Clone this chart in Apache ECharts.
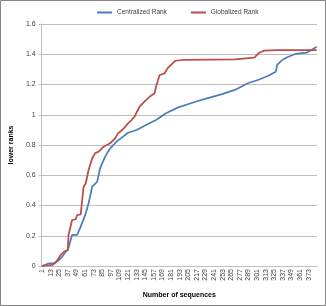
<!DOCTYPE html>
<html><head><meta charset="utf-8">
<script src="https://cdn.jsdelivr.net/npm/echarts@6/dist/echarts.min.js"></script>
<style>html,body{margin:0;padding:0;background:#fff}#c{width:326px;height:306px}</style>
</head><body><div id="c"></div>
<script>
var categoryCount = 384;
var legendNames = ['Centralized Rank', 'Globalized Rank'];
var yTicks = [0, 0.2, 0.4, 0.6, 0.8, 1, 1.2, 1.4, 1.6];
// key points: [category index (0-based), value]
var centralizedRank = [
  [0,0],[1,0.007],[10,0.018],[17,0.018],[24,0.04],[29,0.066],[33,0.095],[36,0.106],
  [42,0.205],[49,0.205],[54,0.26],[61,0.348],[65,0.415],[70,0.524],[77,0.557],[81,0.646],
  [88,0.723],[95,0.778],[104,0.822],[113,0.855],[120,0.881],[132,0.899],[145,0.932],
  [159,0.965],[173,1.01],[189,1.047],[214,1.086],[230,1.108],[250,1.135],[269,1.164],
  [287,1.208],[301,1.23],[315,1.256],[326,1.285],[328,1.329],[335,1.362],[342,1.38],
  [353,1.402],[369,1.41],[376,1.428],[383,1.45]
];
var globalizedRank = [
  [0,0],[1,0.002],[15,0.007],[20,0.028],[26,0.073],[31,0.095],[36,0.106],[37,0.205],
  [39,0.21],[42,0.304],[47,0.309],[49,0.337],[54,0.342],[58,0.524],[61,0.547],[65,0.635],
  [70,0.712],[74,0.745],[79,0.756],[86,0.789],[95,0.811],[102,0.844],[106,0.877],
  [113,0.904],[120,0.943],[125,0.965],[129,0.987],[136,1.053],[143,1.086],[150,1.119],
  [157,1.142],[159,1.185],[164,1.263],[171,1.274],[175,1.307],[182,1.34],[186,1.357],
  [196,1.362],[269,1.366],[296,1.377],[303,1.41],[310,1.424],[328,1.428],[383,1.428]
];
var categories = [];
for (var i = 1; i <= categoryCount; i++) categories.push(String(i));

var chart = echarts.init(document.getElementById('c'), null, {renderer:'canvas'});
var font = 'Liberation Sans, Arial, sans-serif';
chart.setOption({
  animation: false,
  graphic: [{type:'rect', shape:{x:0.5,y:0.5,width:325,height:305}, style:{fill:'none', stroke:'#868686', lineWidth:1}, silent:true}],
  legend: {
    top: 4, left: 92, itemGap: 24, itemWidth: 15, itemHeight: 2, icon: 'rect',
    textStyle: {fontSize: 6.5, color: '#404040', fontFamily: font},
    data: legendNames
  },
  grid: {left: 37, right: 9, top: 24, bottom: 40, containLabel: false},
  xAxis: {
    type: 'category', data: categories, boundaryGap: true,
    name: 'Number of sequences', nameLocation: 'middle', nameGap: 26,
    nameTextStyle: {fontSize: 7, color: '#000', fontFamily: font, fontWeight: 'bold'},
    axisLine: {lineStyle: {color: '#bfbfbf'}},
    axisTick: {show: false},
    axisLabel: {interval: 11, rotate: 90, fontSize: 7, color: '#404040', fontFamily: font, margin: 3},
    splitLine: {show: false}
  },
  yAxis: {
    type: 'value', min: 0, max: 1.6, interval: 0.2,
    name: 'lower ranks', nameLocation: 'middle', nameGap: 23, nameRotate: 90,
    nameTextStyle: {fontSize: 7, color: '#000', fontFamily: font, fontWeight: 'bold'},
    axisLine: {show: true, lineStyle: {color: '#bfbfbf'}},
    axisTick: {show: true, length: 3, inside: false, lineStyle: {color: '#bfbfbf'}},
    axisLabel: {fontSize: 7, color: '#404040', fontFamily: font, margin: 6,
      formatter: function(v){ return yTicks.indexOf(Math.round(v*10)/10) >= 0 ? String(Math.round(v*10)/10) : ''; }},
    splitLine: {lineStyle: {color: '#bfbfbf', width: 1}}
  },
  series: [
    {name: legendNames[0], type: 'line', data: centralizedRank, showSymbol: false, symbol: 'none',
      lineStyle: {color: '#4a7ebb', width: 1.75}, itemStyle: {color: '#4a7ebb'}},
    {name: legendNames[1], type: 'line', data: globalizedRank, showSymbol: false, symbol: 'none',
      lineStyle: {color: '#be4b48', width: 1.75}, itemStyle: {color: '#be4b48'}}
  ]
});
</script></body></html>
